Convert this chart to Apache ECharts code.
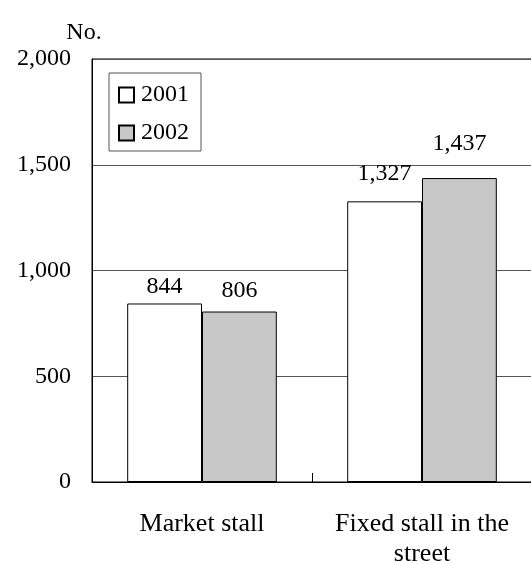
<!DOCTYPE html>
<html><head><meta charset="utf-8">
<script src="https://cdn.jsdelivr.net/npm/echarts@6/dist/echarts.min.js"></script>
<style>html,body{margin:0;padding:0;background:#fff}#c{width:531px;height:564px}</style>
</head><body><div id="c"></div>
<script>
const categories = ['Market stall', 'Fixed stall in the\nstreet'];
const seriesNames = ['2001', '2002'];
const values2001 = [844, 1327];
const values2002 = [806, 1437];
const yTicks = [0, 500, 1000, 1500, 2000];
// label offsets above each bar (styling only)
const labelGap2001 = [5, 16];
const labelGap2002 = [9, 22];
const fmt = v => String(v).replace(/\B(?=(\d{3})+(?!\d))/g, ',');
const FONT = 'Liberation Serif';
const chart = echarts.init(document.getElementById('c'));
const labelCfg = {show: true, position: 'top', distance: 3, color: '#000', fontFamily: FONT, fontSize: 24,
  formatter: p => fmt(p.value)};
const withGap = (vals, gaps) => vals.map((v, i) => ({value: v, label: {distance: gaps[i]}}));
chart.setOption({
  animation: false,
  textStyle: {fontFamily: FONT},
  grid: {left: 92, right: -1, top: 59, bottom: 82, show: true, borderColor: '#000', borderWidth: 1,
         containLabel: false, outerBoundsMode: 'none'},
  legend: {
    orient: 'vertical', left: 109, top: 73, padding: [10, 12, 6, 9], itemGap: 14,
    itemWidth: 15, itemHeight: 15, borderColor: '#555', borderWidth: 1, icon: 'rect',
    textStyle: {fontFamily: FONT, fontSize: 24, color: '#000', padding: [3, 0, 0, 2]},
    data: seriesNames
  },
  xAxis: {
    type: 'category', data: categories,
    axisLine: {lineStyle: {color: '#000', width: 1}},
    axisTick: {show: true, inside: true, length: 9, interval: 0, lineStyle: {color: '#000'}},
    axisLabel: {color: '#000', fontFamily: FONT, fontSize: 26, margin: 27, lineHeight: 30, interval: 0}
  },
  yAxis: {
    type: 'value', min: yTicks[0], max: yTicks[yTicks.length - 1], interval: 500,
    name: 'No.', nameGap: 14,
    nameTextStyle: {color: '#000', fontFamily: FONT, fontSize: 24, padding: [0, 16, 0, 0]},
    axisLine: {show: true, lineStyle: {color: '#000'}},
    axisTick: {show: false},
    splitLine: {lineStyle: {color: '#555', width: 1}},
    axisLabel: {color: '#000', fontFamily: FONT, fontSize: 24, margin: 21, formatter: v => fmt(v)}
  },
  series: [
    {name: seriesNames[0], type: 'bar', data: withGap(values2001, labelGap2001), barGap: '0%', barCategoryGap: '32%',
     itemStyle: {color: '#ffffff', borderColor: '#000', borderWidth: 1}, label: labelCfg},
    {name: seriesNames[1], type: 'bar', data: withGap(values2002, labelGap2002), barGap: '0%', barCategoryGap: '32%',
     itemStyle: {color: '#c8c8c8', borderColor: '#000', borderWidth: 1}, label: labelCfg}
  ]
});
</script></body></html>
